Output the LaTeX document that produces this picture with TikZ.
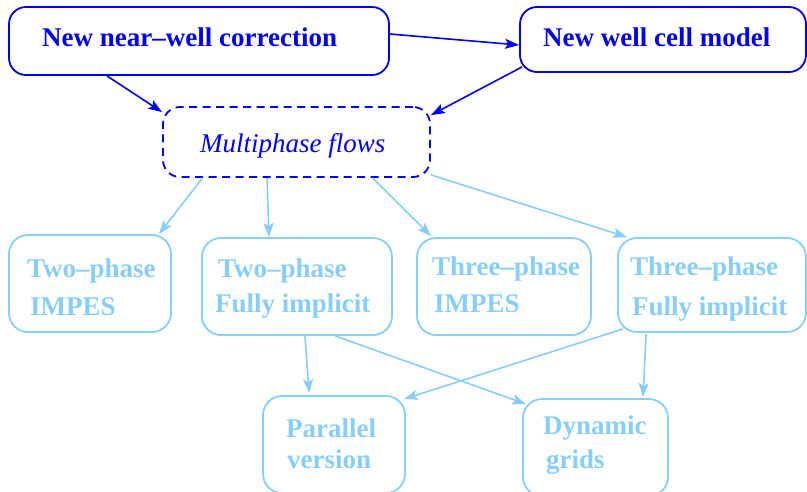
\documentclass[tikz,border=0pt]{standalone}
\usepackage{fontspec}
\setmainfont{Liberation Serif}
\usetikzlibrary{arrows.meta}
\definecolor{topblue}{RGB}{0,0,245}
\definecolor{paleblue}{RGB}{135,206,250}
\tikzset{
  box/.style={draw, line width=1.8pt, rounded corners=17pt, inner sep=0pt},
  topbox/.style={box, draw=topblue},
  subbox/.style={box, draw=paleblue, rounded corners=19pt},
  txt/.style={anchor=base west, inner sep=0pt, font=\fontsize{27}{32}\selectfont\bfseries},
  toptxt/.style={txt, text=topblue},
  subtxt/.style={txt, text=paleblue},
  tip/.style={-{Stealth[length=14pt,width=10pt,inset=3pt]}},
  toparrow/.style={tip, draw=topblue, fill=topblue, line width=1.6pt},
  subarrow/.style={tip, draw=paleblue, fill=paleblue, line width=1.6pt},
}
\begin{document}
\begin{tikzpicture}[x=1pt,y=-1pt]
\useasboundingbox (0,0) rectangle (807,491);
\clip (0,0) rectangle (807,491);

% boxes
\node[topbox, minimum width=380pt, minimum height=68pt] (A) at (199,41) {};
\node[topbox, minimum width=286pt, minimum height=65pt] (B) at (663,39.5) {};
\node[topbox, dash pattern=on 8pt off 5.5pt, minimum width=267pt, minimum height=70pt] (C) at (296.5,142) {};
\node[subbox, minimum width=162pt, minimum height=97pt] (D) at (90,283.5) {};
\node[subbox, minimum width=190pt, minimum height=97pt] (E) at (297,286.5) {};
\node[subbox, minimum width=174pt, minimum height=97pt] (F) at (504,286.5) {};
\node[subbox, minimum width=188pt, minimum height=94pt] (G) at (712,285) {};
\node[subbox, minimum width=142pt, minimum height=97pt] (H) at (334,444.5) {};
\node[subbox, minimum width=145pt, minimum height=97pt] (I) at (595.5,447.5) {};

% labels
\node[toptxt] (At) at (42,46) {New near–well correction};
\node[toptxt] (Bt) at (543,46) {New well cell model};
\node[toptxt, font=\fontsize{27}{32}\selectfont\itshape] (Ct) at (200,152) {Multiphase flows};
\node[subtxt] (Dt1) at (27,277) {Two–phase};
\node[subtxt] (Dt2) at (30,315) {IMPES};
\node[subtxt] (Et1) at (218,277) {Two–phase};
\node[subtxt] (Et2) at (215,312) {Fully implicit};
\node[subtxt] (Ft1) at (432,275) {Three–phase};
\node[subtxt] (Ft2) at (434,312) {IMPES};
\node[subtxt] (Gt1) at (630,275) {Three–phase};
\node[subtxt] (Gt2) at (632,315) {Fully implicit};
\node[subtxt] (Ht1) at (286,437) {Parallel};
\node[subtxt] (Ht2) at (287,468) {version};
\node[subtxt] (It1) at (543,434) {Dynamic};
\node[subtxt] (It2) at (546,468) {grids};

% connectors between the top boxes
\draw[toparrow] ([yshift=7pt]A.east) -- ([yshift=-5.5pt]B.west);
\draw[toparrow] ([xshift=-92pt]A.south) -- ([yshift=-6pt]C.north west);
\draw[toparrow] ([xshift=3pt,yshift=6pt]B.south west) -- ([yshift=-9pt]C.north east);

% multiphase flows to the four solvers
\draw[subarrow] ([xshift=-94pt]C.south) -- ([xshift=-13pt]D.north east);
\draw[subarrow] ([xshift=-29.5pt]C.south) -- ([xshift=-28pt]E.north);
\draw[subarrow] ([xshift=76pt]C.south) -- ([xshift=15pt,yshift=1pt]F.north west);
\draw[subarrow] ([yshift=3pt]C.south east) -- ([xshift=10pt]G.north west);

% fully implicit solvers to parallel version and dynamic grids
\draw[subarrow] ([xshift=8pt]E.south) -- ([xshift=47pt,yshift=2pt]H.north west);
\draw[subarrow] ([xshift=38pt]E.south) -- ([xshift=4pt,yshift=-6pt]I.north west);
\draw[subarrow] ([xshift=6pt,yshift=4pt]G.south west) -- ([xshift=-2pt,yshift=-4pt]H.north east);
\draw[subarrow] ([xshift=29pt,yshift=-1pt]G.south west) -- ([xshift=47.5pt,yshift=1pt]I.north);
\end{tikzpicture}
\end{document}
